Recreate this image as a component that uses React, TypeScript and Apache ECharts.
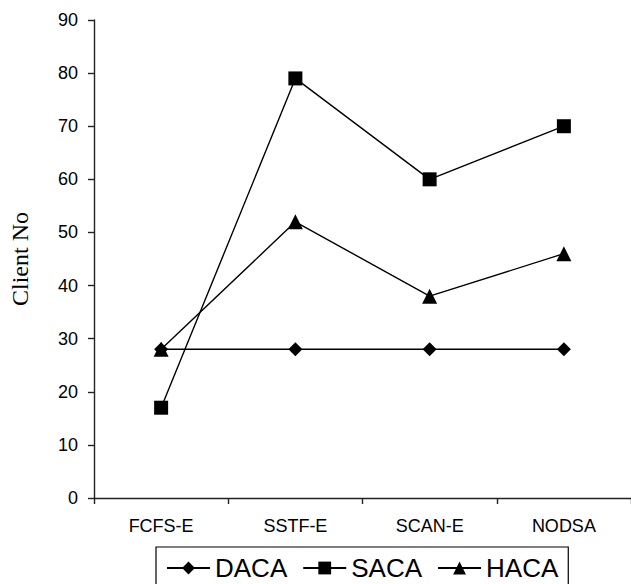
import React, { useEffect, useRef } from "react";
import * as echarts from "echarts";

const categories = ["FCFS-E", "SSTF-E", "SCAN-E", "NODSA"];
const dacaValues = [28, 28, 28, 28];
const sacaValues = [17, 79, 60, 70];
const hacaValues = [28, 52, 38, 46];
const yTicks = { min: 0, max: 90, interval: 10 };

const SANS = "'Liberation Sans', Arial, sans-serif";
const SERIF = "'Liberation Serif', 'Times New Roman', serif";

function lineSeries(name: string, data: number[], symbol: string, size: number) {
  return {
    name,
    type: "line",
    data,
    symbol,
    symbolSize: size,
    showAllSymbol: true,
    lineStyle: { color: "#000", width: 1.4 },
    itemStyle: { color: "#000", borderWidth: 0 },
    emphasis: { disabled: true },
  };
}

export default function App() {
  const ref = useRef<HTMLDivElement>(null);

  useEffect(() => {
    if (!ref.current) return;
    const chart = echarts.init(ref.current, null, { renderer: "svg" });
    chart.setOption({
      animation: false,
      backgroundColor: "#fff",
      grid: { left: 87, top: 20, width: 554, bottom: 86 },
      xAxis: {
        type: "category",
        data: categories,
        boundaryGap: true,
        axisLine: { lineStyle: { color: "#222", width: 1.4 } },
        axisTick: { show: true, length: 6, lineStyle: { color: "#222", width: 1.4 } },
        axisLabel: { color: "#000", fontFamily: SANS, fontSize: 18, margin: 19 },
        splitLine: { show: false },
      },
      yAxis: {
        type: "value",
        min: yTicks.min,
        max: yTicks.max,
        interval: yTicks.interval,
        name: "Client No",
        nameLocation: "middle",
        nameGap: 62,
        nameTextStyle: { color: "#000", fontFamily: SERIF, fontSize: 24 },
        axisLine: { show: true, lineStyle: { color: "#222", width: 1.4 } },
        axisTick: { show: true, length: 6, lineStyle: { color: "#222", width: 1.4 } },
        axisLabel: { color: "#000", fontFamily: SANS, fontSize: 18, margin: 16 },
        splitLine: { show: false },
      },
      legend: {
        left: 156,
        top: 547,
        orient: "horizontal",
        padding: [8, 10],
        itemGap: 15,
        itemWidth: 43,
        itemHeight: 16,
        borderColor: "#000",
        borderWidth: 1.2,
        borderRadius: 0,
        textStyle: { color: "#000", fontFamily: SANS, fontSize: 26 },
        data: ["DACA", "SACA", "HACA"],
      },
      series: [
        lineSeries("DACA", dacaValues, "diamond", 14),
        lineSeries("SACA", sacaValues, "rect", 14),
        lineSeries("HACA", hacaValues, "triangle", 15),
      ],
    });
    return () => chart.dispose();
  }, []);

  return (
    <div
      ref={ref}
      style={{ position: "fixed", left: 0, top: 0, width: 631, height: 584 }}
    />
  );
}
